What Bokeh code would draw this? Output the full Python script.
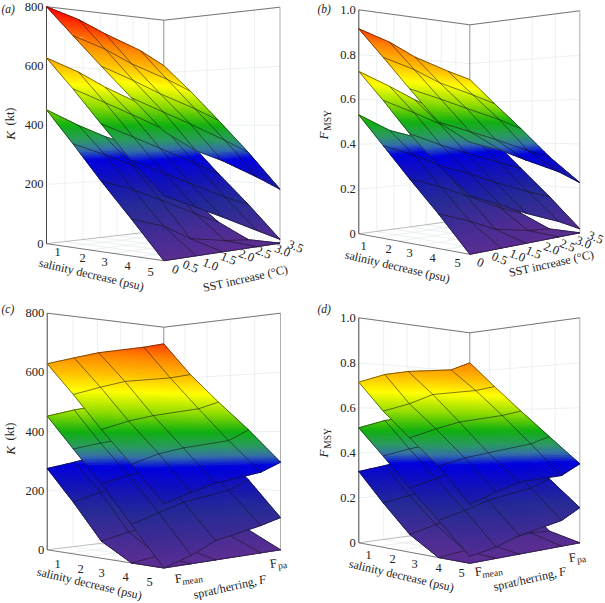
from bokeh.plotting import figure
from bokeh.models import Range1d, ColumnDataSource
from bokeh.embed import file_html
from bokeh.resources import INLINE
from bokeh.core.properties import value
import math

# ---- data: rows = salinity mesh lines, columns = SST / F mesh lines
salinity_mesh = [0, .25, .5, .75, 1]
sst_mesh = [0, .25, .47, .78, 1]
f_mesh = [0, .21, .41, .81, 1]

a_top = [[800,768,727,677,627],[693,657,613,566,526],[587,546,506,457,417],[484,441,404,348,305],[382,322,288,229,183]]
a_mid = [[627,585,536,479,441],[519,476,437,380,333],[404,361,322,266,225],[292,249,210,155,123],[192,149,110,53,13]]
a_low = [[452,399,359,312,265],[339,300,262,195,133],[223,188,150,90,51],[113,80,30,8,0],[0,0,0,0,0]]

b_top = [[.915,.869,.81,.753,.718],[.777,.733,.68,.63,.59],[.636,.597,.56,.51,.466],[.499,.46,.425,.37,.336],[.423,.387,.342,.283,.226]]
b_mid = [[.725,.664,.605,.532,.481],[.592,.54,.49,.43,.399],[.451,.40,.36,.31,.274],[.328,.285,.24,.185,.151],[.222,.17,.123,.067,.018]]
b_low = [[.531,.46,.427,.373,.318],[.398,.35,.30,.23,.16],[.265,.22,.17,.10,.058],[.137,.09,.04,.01,0],[0,0,0,0,0]]

c_top = [[629,656,681,716,736],[521,549,573,595,612],[406,434,453,480,506],[300,330,347,369,406],[188,216,239,266,296]]
c_mid = [[452,475,493,528,545],[343,361,375,392,410],[235,257,275,298,331],[117,145,172,199,231],[0,25,60,90,109]]
c_low = [[275,293,314,341,359],[169,196,213,240,255],[54,73,91,122,151],[0,10,25,48,56],[0,0,0,0,0]]

d_top = [[.714,.756,.778,.802,.846],[.582,.617,.663,.692,.717],[.469,.506,.536,.569,.592],[.359,.387,.405,.439,.471],[.221,.259,.291,.305,.351]]
d_mid = [[.511,.545,.562,.591,.619],[.39,.418,.438,.459,.483],[.264,.294,.331,.36,.395],[.146,.173,.205,.241,.276],[.026,.044,.075,.111,.156]]
d_low = [[.317,.338,.36,.399,.422],[.19,.212,.233,.258,.276],[.073,.10,.119,.142,.164],[0,.01,.02,.04,.035],[0,0,0,0,0]]

k_ticks = ["0", "200", "400", "600", "800"]
f_ticks = ["0", "0.2", "0.4", "0.6", "0.8", "1.0"]
salinity_ticks = ["1", "2", "3", "4", "5"]
sst_ticks = ["0", "0.5", "1.0", "1.5", "2.0", "2.5", "3.0", "3.5"]

# ---- colour scale by height
STOPS = [(0, "#5a2d92"), (.18, "#252a96"), (.27, "#1414b4"), (.36, "#0000e0"), (.40, "#3570a8"),
         (.44, "#2a9a60"), (.5, "#10b010"), (.58, "#90dc00"), (.67, "#ffff00"), (.75, "#ffc000"),
         (.85, "#ff8000"), (.92, "#ff4000"), (1, "#ff0000")]

def hex2rgb(h):
    return [int(h[i:i+2], 16) for i in (1, 3, 5)]

def colour(w):
    w = min(max(w, 0), 1)
    for (a, ca), (b, cb) in zip(STOPS, STOPS[1:]):
        if w <= b:
            t = (w - a) / (b - a)
            ra, rb = hex2rgb(ca), hex2rgb(cb)
            return "#%02x%02x%02x" % tuple(int(round(x + (y - x) * t)) for x, y in zip(ra, rb))
    return STOPS[-1][1]

# ---- perspective camera of each box: corner x, corner heights, eye-level y
class Camera:
    def __init__(s, xL, xF, xB, xR, hL, hF, hB, hR, yh):
        s.xs = (xL, xF, xB, xR); s.hs = (hL, hF, hB, hR); s.yh = yh
    def blend(s, vals, u, v):
        return vals[0]*(1-u)*(1-v) + vals[1]*u*(1-v) + vals[2]*(1-u)*v + vals[3]*u*v
    def __call__(s, u, v, w):
        d = s.blend([1/h for h in s.hs], u, v)
        x = s.blend([x/h for x, h in zip(s.xs, s.hs)], u, v) / d
        return x, s.yh - (w - .5) / d

def clip(poly, limit, keep_above):
    out = []
    n = len(poly)
    for i in range(n):
        p, q = poly[i], poly[(i + 1) % n]
        pin = p[2] >= limit if keep_above else p[2] <= limit
        qin = q[2] >= limit if keep_above else q[2] <= limit
        if pin:
            out.append(p)
        if pin != qin:
            t = (limit - p[2]) / (q[2] - p[2])
            out.append(tuple(a + (b - a) * t for a, b in zip(p, q)))
    return out

BANDS = 120

def surface(p, cam, grid, vs, zmax):
    xs, ys, cs = [], [], []
    nu, nv = len(salinity_mesh), len(vs)
    W = [[grid[i][j] / zmax for j in range(nv)] for i in range(nu)]
    for j in range(nv - 2, -1, -1):
        for i in range(nu - 1):
            n = [(salinity_mesh[i+a], vs[j+b], W[i+a][j+b]) for a, b in ((0, 0), (1, 0), (1, 1), (0, 1))]
            for tri in ((n[0], n[1], n[2]), (n[0], n[2], n[3])):
                lo = min(t[2] for t in tri); hi = max(t[2] for t in tri)
                for k in range(int(lo * BANDS), min(int(hi * BANDS), BANDS - 1) + 1):
                    a, b = k / BANDS, (k + 1) / BANDS
                    poly = clip(tri, a, True)
                    if poly:
                        poly = clip(poly, b, False)
                    if len(poly) < 3:
                        continue
                    pts = [cam(*q) for q in poly]
                    area = abs(sum(pts[m][0]*pts[(m+1) % len(pts)][1] - pts[(m+1) % len(pts)][0]*pts[m][1] for m in range(len(pts))))
                    if area < 1e-3:
                        continue
                    xs.append([q[0] for q in pts]); ys.append([q[1] for q in pts]); cs.append(colour((a + b) / 2))
    src = ColumnDataSource(dict(xs=xs, ys=ys, c=cs))
    p.patches("xs", "ys", source=src, fill_color="c", line_color="c", line_width=1.0)
    # mesh
    mx, my = [], []
    for i in range(nu):
        pts = [cam(salinity_mesh[i], vs[j], W[i][j]) for j in range(nv)]
        mx.append([q[0] for q in pts]); my.append([q[1] for q in pts])
    for j in range(nv):
        pts = [cam(salinity_mesh[i], vs[j], W[i][j]) for i in range(nu)]
        mx.append([q[0] for q in pts]); my.append([q[1] for q in pts])
    p.multi_line(mx, my, line_color="#141414", line_alpha=0.78, line_width=0.7)

def seg(p, cam, a, b, color, width=0.8):
    pa, pb = cam(*a), cam(*b)
    p.line([pa[0], pb[0]], [pa[1], pb[1]], line_color=color, line_width=width)

GRID = "#e6ecee"
SERIF = value("Liberation Serif")

def txt(p, x, y, s, size=12.5, angle=0, style="normal", align="center"):
    p.text([x], [y], text=[s], text_font=SERIF, text_font_size=f"{size}px", text_font_style=style,
           text_align=align, text_baseline="middle", angle=angle, text_color="#222222")

def box(p, cam, nticks, vticks):
    for f in range(1, 5):
        seg(p, cam, (f/5, 1, 0), (f/5, 1, 1), GRID)
        seg(p, cam, (f/5, 0, 0), (f/5, 1, 0), GRID)
    for vt in vticks:
        seg(p, cam, (0, vt, 0), (0, vt, 1), GRID)
        seg(p, cam, (0, vt, 0), (1, vt, 0), GRID)
    for k in range(1, nticks):
        w = k / (nticks - 1)
        seg(p, cam, (0, 0, w), (0, 1, w), GRID)
        seg(p, cam, (0, 1, w), (1, 1, w), GRID)
    seg(p, cam, (0, 0, 1), (0, 1, 1), "#555555")
    seg(p, cam, (0, 1, 1), (1, 1, 1), "#555555")
    seg(p, cam, (0, 1, 0), (0, 1, 1), "#777777")
    seg(p, cam, (1, 1, 0), (1, 1, 1), "#999999")
    seg(p, cam, (0, 0, 0), (0, 1, 0), "#aaaaaa")
    seg(p, cam, (0, 1, 0), (1, 1, 0), "#aaaaaa")
    seg(p, cam, (0, 0, 0), (0, 0, 1), "#444444", 1)
    seg(p, cam, (0, 0, 0), (1, 0, 0), "#555555")
    seg(p, cam, (1, 0, 0), (1, 1, 0), "#555555")

p = figure(width=605, height=603, x_range=Range1d(0, 605), y_range=Range1d(603, 0),
           toolbar_location=None, output_backend="svg", min_border=0)
p.axis.visible = False
p.xgrid.visible = False
p.ygrid.visible = False
p.outline_line_color = None

cam_a = Camera(46, 163.3, 163.3, 279.5, 237, 271, 210, 236, 124.7)
cam_b = Camera(358.3, 469.3, 469.3, 579.3, 224, 265, 194, 222, 121.3)
cam_c = Camera(46.7, 163.3, 163.3, 280, 236.6, 273, 208.6, 236.6, 431)
cam_d = Camera(358.3, 469.3, 469.3, 579.3, 225, 266, 195, 225, 429.8)

sst_wall = [k / 7 for k in range(1, 7)]
f_wall = [.2, .4, .6, .8]

panels = [
    (cam_a, (a_low, a_mid, a_top), sst_mesh, 800, k_ticks, sst_wall),
    (cam_b, (b_low, b_mid, b_top), sst_mesh, 1, f_ticks, sst_wall),
    (cam_c, (c_low, c_mid, c_top), f_mesh, 800, k_ticks, f_wall),
    (cam_d, (d_low, d_mid, d_top), f_mesh, 1, f_ticks, f_wall),
]
for cam, surfs, vs, zmax, ticks, wall in panels:
    box(p, cam, len(ticks), wall)
    for g in surfs:
        surface(p, cam, g, vs, zmax)
    n = len(ticks)
    for k, t in enumerate(ticks):
        x, y = cam(0, 0, k / (n - 1))
        txt(p, x - 3, y, t, align="right")

RS, RR = -0.23, 0.22   # text rotation of the two floor axes

# panel letters
txt(p, 1, 8, "(a)", 11.5, style="italic", align="left")
txt(p, 317, 8, "(b)", 11.5, style="italic", align="left")
txt(p, 1, 308, "(c)", 11.5, style="italic", align="left")
txt(p, 317, 308, "(d)", 11.5, style="italic", align="left")

# y titles
for x0, yc in ((9.5, 118), (9.5, 433)):
    txt(p, x0, yc + 17, "K", 13, math.pi/2, "italic")
    txt(p, x0, yc - 2, "(kt)", 12.5, math.pi/2)
for x0, yc in ((323, 120), (323, 438)):
    txt(p, x0, yc + 15, "F", 13, math.pi/2, "italic")
    txt(p, x0 + 4, yc, "MSY", 9.5, math.pi/2)

# salinity ticks
for lab, pos in zip(salinity_ticks, [(57, 251), (82, 257), (104, 261), (127, 265), (150, 271)]):
    txt(p, pos[0], pos[1], lab)
for lab, pos in zip(salinity_ticks, [(363, 245), (388, 248), (409, 252), (432, 257), (457, 262)]):
    txt(p, pos[0], pos[1], lab)
for lab, pos in zip(salinity_ticks, [(57, 563), (80, 568), (101, 572), (125, 576), (149, 581)]):
    txt(p, pos[0], pos[1], lab)
for lab, pos in zip(salinity_ticks, [(368, 554), (392, 558), (414, 563), (438, 567), (461, 572)]):
    txt(p, pos[0], pos[1], lab)

# SST ticks
for lab, pos in zip(sst_ticks, [(175, 269), (190, 266), (210, 264), (228, 258), (246, 255), (263, 252), (282, 250), (295, 246)]):
    txt(p, pos[0], pos[1], lab, angle=-0.4)
for lab, pos in zip(sst_ticks, [(480, 262), (499, 258), (517, 255), (533, 252), (551, 248), (567, 245), (583, 242), (595, 237)]):
    txt(p, pos[0], pos[1], lab, angle=-0.4)

# axis titles
for x, y in ((91, 274), (397, 266), (89, 583), (401, 575)):
    txt(p, x, y, "salinity decrease (psu)", 12, RS)
for x, y in ((245, 278), (551, 263)):
    txt(p, x, y, "SST increase (°C)", 12, RR)
for x, y in ((226, 587), (526, 579)):
    txt(p, x, y, "sprat/herring, ", 12, RR)
    txt(p, x + 36, y - 8, "F", 12, RR, "italic")

# F tick labels
for x, y in ((178, 578), (478, 571)):
    txt(p, x, y, "F", 12.5, 0.14)
    txt(p, x + 14, y + 2, "mean", 9.5, 0.14)
for x, y in ((273, 563), (572, 557)):
    txt(p, x, y, "F", 12.5, 0.14)
    txt(p, x + 9, y + 2, "pa", 9.5, 0.14)

open("out.html", "w").write(file_html(p, INLINE))
